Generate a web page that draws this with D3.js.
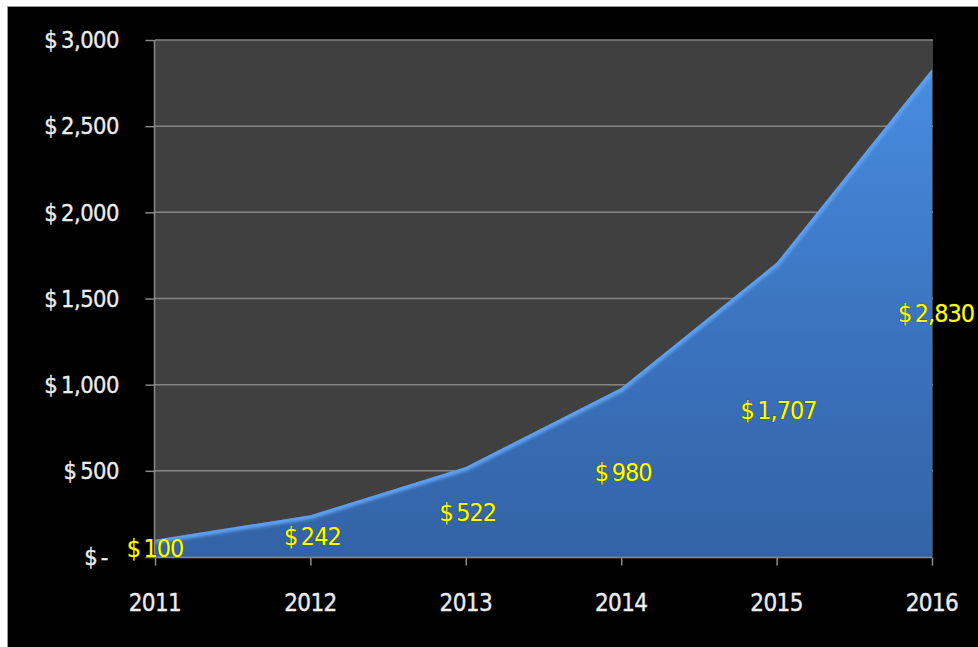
<!DOCTYPE html>
<html>
<head>
<meta charset="utf-8">
<script src="https://cdn.jsdelivr.net/npm/d3@7"></script>
<style>
  html, body { margin: 0; padding: 0; background: #ffffff; }
  svg { display: block; }
  text { font-family: "DejaVu Sans Condensed", "DejaVu Sans", sans-serif; }
</style>
</head>
<body>
<svg id="chart" width="978" height="647"></svg>
<script>
// Yearly totals
const years = ["2011", "2012", "2013", "2014", "2015", "2016"];
const revenue = [100, 242, 522, 980, 1707, 2830];
const valueLabels = ["$\u2009100", "$\u2009242", "$\u2009522", "$\u2009980", "$\u20091,707", "$\u20092,830"];
const yTicks = [0, 500, 1000, 1500, 2000, 2500, 3000];
const yTickLabels = ["$\u2009-", "$\u2009500", "$\u20091,000", "$\u20091,500", "$\u20092,000", "$\u20092,500", "$\u20093,000"];

const svg = d3.select("#chart");
const W = 978, H = 647;
const plot = { left: 155, top: 40, right: 933, bottom: 557 };

// black panel with thin grey frame on the top and left
svg.append("rect").attr("x", 0).attr("y", 0).attr("width", W).attr("height", H).attr("fill", "#ffffff");
svg.append("rect").attr("x", 7).attr("y", 6).attr("width", W - 7).attr("height", H - 6).attr("fill", "#9a9a9a");
svg.append("rect").attr("x", 8).attr("y", 7).attr("width", W - 8).attr("height", H - 7).attr("fill", "#000000");

const x = d3.scalePoint().domain(years).range([plot.left, plot.right - 1]);
const y = d3.scaleLinear().domain([0, 3000]).range([plot.bottom, plot.top]);

const defs = svg.append("defs");
const grad = defs.append("linearGradient")
  .attr("id", "areaFill").attr("gradientUnits", "userSpaceOnUse")
  .attr("x1", 0).attr("y1", y(2830)).attr("x2", 0).attr("y2", plot.bottom);
grad.append("stop").attr("offset", 0).attr("stop-color", "#488ce0");
grad.append("stop").attr("offset", 0.55).attr("stop-color", "#3a73bd");
grad.append("stop").attr("offset", 1).attr("stop-color", "#3363a6");

defs.append("filter").attr("id", "soft")
  .append("feGaussianBlur").attr("stdDeviation", 1.5);
const clip = defs.append("clipPath").attr("id", "plotClip");

// plot background
svg.append("rect")
  .attr("x", plot.left).attr("y", plot.top)
  .attr("width", plot.right - plot.left).attr("height", plot.bottom - plot.top)
  .attr("fill", "#404040");

// horizontal gridlines
svg.append("g")
  .selectAll("line")
  .data(yTicks.filter(d => d > 0))
  .join("line")
  .attr("x1", plot.left).attr("x2", plot.right)
  .attr("y1", d => y(d)).attr("y2", d => y(d))
  .attr("stroke", "#858585").attr("stroke-width", 1.5);

// area
const area = d3.area()
  .x((d, i) => x(years[i]))
  .y0(plot.bottom)
  .y1(d => y(d));
const line = d3.line()
  .x((d, i) => x(years[i]))
  .y(d => y(d));

clip.append("path").attr("d", area(revenue));

svg.append("path")
  .attr("d", area(revenue))
  .attr("fill", "url(#areaFill)");

// light bevel along the top edge of the area
svg.append("g").attr("clip-path", "url(#plotClip)")
  .append("path")
  .attr("d", line(revenue))
  .attr("fill", "none")
  .attr("stroke", "#5da0f0")
  .attr("stroke-width", 8)
  .attr("filter", "url(#soft)");

// axes
const axisColor = "#8a8a8a";
const yAxis = svg.append("g")
  .attr("transform", `translate(${plot.left - 0.5},0)`)
  .call(d3.axisLeft(y).tickValues(yTicks).tickSize(9).tickFormat(""));
yAxis.select(".domain").attr("stroke", axisColor).attr("stroke-width", 1.5).attr("d", `M0,${plot.top}V${plot.bottom + 1}`);
yAxis.selectAll(".tick line").attr("stroke", axisColor).attr("stroke-width", 1.5);

const xAxis = svg.append("g")
  .attr("transform", `translate(0,${plot.bottom + 0.5})`)
  .call(d3.axisBottom(x).tickSize(8).tickFormat(""));
xAxis.select(".domain").attr("stroke", axisColor).attr("stroke-width", 1.5).attr("d", `M${plot.left},0H${plot.right - 1}`);
xAxis.selectAll(".tick line").attr("stroke", axisColor).attr("stroke-width", 1.5);

// y tick labels
svg.append("g")
  .selectAll("text")
  .data(yTicks)
  .join("text")
  .attr("x", (d, i) => i === 0 ? 108 : 119)
  .attr("y", d => y(d))
  .attr("dy", "0.35em")
  .attr("text-anchor", "end")
  .attr("fill", "#ececec")
  .attr("stroke", "#ececec")
  .attr("stroke-width", 0.35)
  .attr("font-size", 23.5)
  .attr("letter-spacing", -0.5)
  .text((d, i) => yTickLabels[i]);

// x tick labels
svg.append("g")
  .selectAll("text")
  .data(years)
  .join("text")
  .attr("x", d => x(d))
  .attr("y", 603)
  .attr("dy", "0.35em")
  .attr("text-anchor", "middle")
  .attr("fill", "#ececec")
  .attr("stroke", "#ececec")
  .attr("stroke-width", 0.35)
  .attr("font-size", 24)
  .attr("letter-spacing", -0.6)
  .text(d => d);

// value labels, placed halfway up each value
svg.append("g")
  .selectAll("text")
  .data(revenue)
  .join("text")
  .attr("x", (d, i) => x(years[i]) + (i === 5 ? 4 : i === 0 ? 0 : 2))
  .attr("y", d => y(d / 2))
  .attr("dy", "0.35em")
  .attr("text-anchor", "middle")
  .attr("fill", "#ffff00")
  .attr("stroke", "#4a4a00")
  .attr("stroke-width", 0.7)
  .attr("paint-order", "stroke")
  .attr("font-size", 25)
  .attr("letter-spacing", -1)
  .text((d, i) => valueLabels[i]);
</script>
</body>
</html>
